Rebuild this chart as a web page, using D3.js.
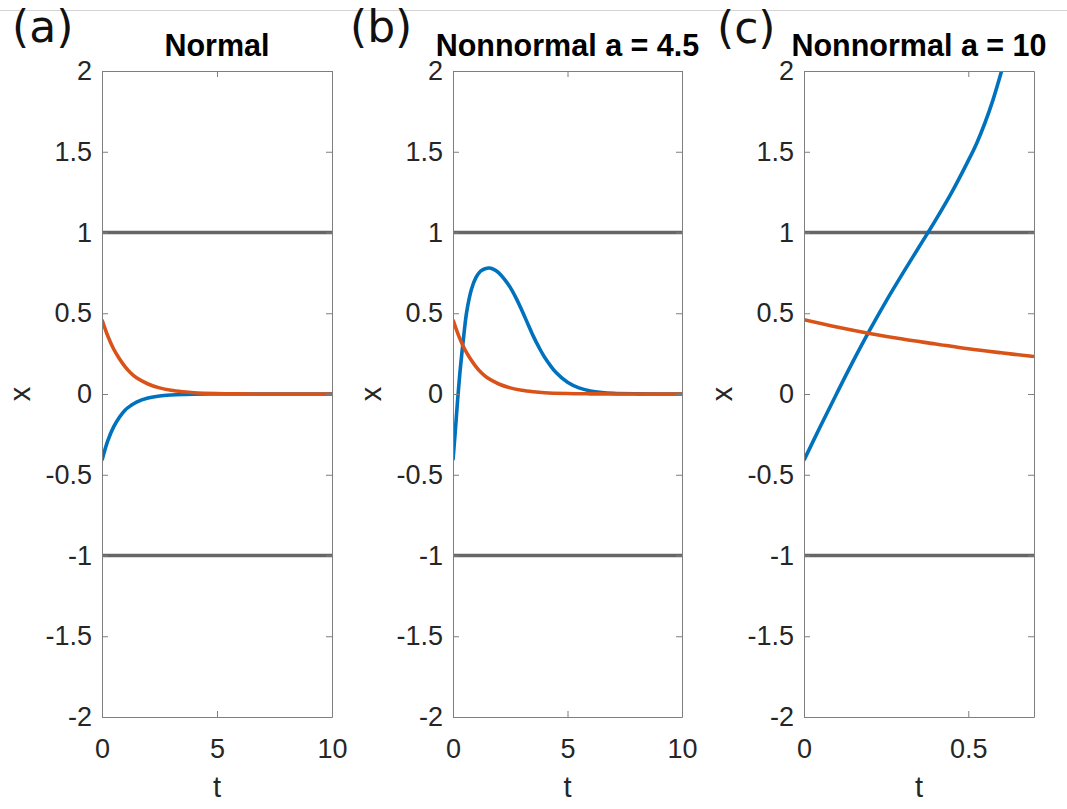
<!DOCTYPE html>
<html>
<head>
<meta charset="utf-8">
<script src="https://cdn.jsdelivr.net/npm/d3@7"></script>
<style>
   body { margin: 0; background: #fff; }
   text { font-family: "Liberation Sans", Arial, sans-serif; fill: #262626; }
</style>
</head>
<body>
<svg id="chart" width="1067" height="809"></svg>
<script>
// panel (a) Normal
const tA = [0, 0.25, 0.5, 0.75, 1, 1.25, 1.5, 2, 2.5, 3, 3.5, 4, 5, 6, 7, 8, 10]
const blueA = [-0.41, -0.29, -0.205, -0.145, -0.1, -0.072, -0.05, -0.025, -0.012, -0.006, -0.003, -0.0015, 0, 0, 0, 0, 0]
const orangeA = [0.46, 0.36, 0.28, 0.22, 0.17, 0.13, 0.1, 0.062, 0.038, 0.023, 0.014, 0.008, 0.003, 0.001, 0, 0, 0]

// panel (b) Nonnormal a = 4.5
const tB = [0, 0.1, 0.2, 0.3, 0.4, 0.5, 0.6, 0.8, 1, 1.2, 1.4, 1.6, 1.8, 2, 2.25, 2.5, 2.75, 3, 3.25, 3.5, 3.75, 4, 4.5, 5, 5.5, 6, 6.5, 7, 8, 10]
const blueB = [-0.41, -0.23, -0.04, 0.13, 0.27, 0.4, 0.51, 0.645, 0.72, 0.76, 0.776, 0.78, 0.77, 0.75, 0.71, 0.66, 0.595, 0.52, 0.44, 0.36, 0.29, 0.228, 0.133, 0.073, 0.038, 0.019, 0.009, 0.004, 0.001, 0]
const tBo = [0, 0.25, 0.5, 0.75, 1, 1.25, 1.5, 2, 2.5, 3, 3.5, 4, 5, 6, 7, 8, 10]
const orangeB = [0.46, 0.36, 0.28, 0.22, 0.17, 0.13, 0.1, 0.062, 0.038, 0.023, 0.014, 0.008, 0.003, 0.001, 0, 0, 0]

// panel (c) Nonnormal a = 10
const tC = [0, 0.05, 0.1, 0.15, 0.2, 0.25, 0.3, 0.35, 0.4, 0.45, 0.5, 0.525, 0.55, 0.575, 0.6, 0.62]
const blueC = [-0.41, -0.2, 0.005, 0.205, 0.395, 0.575, 0.745, 0.91, 1.075, 1.25, 1.445, 1.55, 1.675, 1.82, 1.99, 2.14]
const tCo = [0, 0.1, 0.2, 0.3, 0.4, 0.5, 0.6, 0.7]
const orangeC = [0.46, 0.415, 0.375, 0.34, 0.31, 0.28, 0.255, 0.232]

const yTicks = [-2, -1.5, -1, -0.5, 0, 0.5, 1, 1.5, 2]
const thresholds = [1, -1]

const panels = [
   { tag: "(a)", title: "Normal", left: 102, right: 332, xMax: 10, xTicks: [0, 5, 10],
     blue: [tA, blueA], orange: [tA, orangeA], tagX: 12, tagY: 42 },
   { tag: "(b)", title: "Nonnormal a = 4.5", left: 453, right: 682, xMax: 10, xTicks: [0, 5, 10],
     blue: [tB, blueB], orange: [tBo, orangeB], tagX: 350, tagY: 42 },
   { tag: "(c)", title: "Nonnormal a = 10", left: 804, right: 1034, xMax: 0.7, xTicks: [0, 0.5],
     blue: [tC, blueC], orange: [tCo, orangeC], tagX: 717, tagY: 43 }
]

const plotTop = 71, plotBottom = 717, tickLen = 6
const axisColor = "#7f7f7f"
const svg = d3.select("#chart")

svg.append("line")
   .attr("x1", 0).attr("x2", 1067).attr("y1", 10.5).attr("y2", 10.5)
   .attr("stroke", "#d4d4d4").attr("stroke-width", 1)

const y = d3.scaleLinear().domain([-2, 2]).range([plotBottom, plotTop])

panels.forEach((p, i) => {
   const x = d3.scaleLinear().domain([0, p.xMax]).range([p.left, p.right])
   const g = svg.append("g")

   const clipId = "clip" + i
   svg.append("clipPath").attr("id", clipId)
      .append("rect").attr("x", p.left).attr("y", plotTop)
      .attr("width", p.right - p.left).attr("height", plotBottom - plotTop)

   const plot = g.append("g").attr("clip-path", `url(#${clipId})`)

   plot.selectAll(".thr").data(thresholds).enter().append("line")
      .attr("x1", p.left).attr("x2", p.right)
      .attr("y1", d => y(d)).attr("y2", d => y(d))
      .attr("stroke", "#666666").attr("stroke-width", 3.3)

   const line = d3.line().x(d => x(d[0])).y(d => y(d[1])).curve(d3.curveCatmullRom.alpha(0.5))
   const series = [
      { pts: d3.zip(p.blue[0], p.blue[1]), color: "#0072BD" },
      { pts: d3.zip(p.orange[0], p.orange[1]), color: "#D95319" }
   ]
   plot.selectAll(".series").data(series).enter().append("path")
      .attr("d", d => line(d.pts))
      .attr("fill", "none")
      .attr("stroke", d => d.color)
      .attr("stroke-width", 3.6)
      .attr("stroke-linejoin", "round")

   // axes: bottom/left with labels, top/right ticks only (box on, ticks inside)
   const axB = g.append("g").attr("transform", `translate(0,${plotBottom})`)
      .call(d3.axisBottom(x).tickValues(p.xTicks).tickSizeInner(-tickLen).tickSizeOuter(0).tickPadding(0).tickFormat(d3.format("")))
   const axT = g.append("g").attr("transform", `translate(0,${plotTop})`)
      .call(d3.axisTop(x).tickValues(p.xTicks).tickSizeInner(-tickLen).tickSizeOuter(0).tickFormat(""))
   const axL = g.append("g").attr("transform", `translate(${p.left},0)`)
      .call(d3.axisLeft(y).tickValues(yTicks).tickSizeInner(-tickLen).tickSizeOuter(0).tickPadding(10).tickFormat(d3.format("")))
   const axR = g.append("g").attr("transform", `translate(${p.right},0)`)
      .call(d3.axisRight(y).tickValues(yTicks).tickSizeInner(-tickLen).tickSizeOuter(0).tickFormat(""))

   ;[axB, axT, axL, axR].forEach(ax => {
      ax.select(".domain").attr("stroke", axisColor).attr("stroke-width", 1)
      ax.selectAll(".tick line").attr("stroke", axisColor).attr("stroke-width", 1)
   })

   axB.selectAll(".tick text")
      .attr("y", 41).attr("dy", 0)
      .attr("font-size", 27).attr("font-family", "Liberation Sans, Arial, sans-serif").attr("fill", "#262626")
   axL.selectAll(".tick text")
      .attr("x", -10)
      .attr("font-size", 27).attr("font-family", "Liberation Sans, Arial, sans-serif").attr("fill", "#262626")
      .text(d => d3.format("")(d).replace("−", "-"))

   // x axis label t
   g.append("text")
      .attr("x", (p.left + p.right) / 2).attr("y", 797)
      .attr("text-anchor", "middle").attr("font-size", 29)
      .text("t")

   // y axis label x
   g.append("text")
      .attr("transform", `translate(${p.left - 72},${y(0)}) rotate(-90)`)
      .attr("text-anchor", "middle").attr("font-size", 29)
      .text("x")

   // title
   g.append("text")
      .attr("x", (p.left + p.right) / 2).attr("y", 56)
      .attr("text-anchor", "middle").attr("font-size", 30.5).attr("font-weight", "bold")
      .style("fill", "#000")
      .text(p.title)

   // panel tag
   g.append("text")
      .attr("x", p.tagX).attr("y", p.tagY)
      .attr("font-size", 44)
      .style("font-family", "DejaVu Sans, sans-serif")
      .style("fill", "#111")
      .text(p.tag)
})
</script>
</body>
</html>
